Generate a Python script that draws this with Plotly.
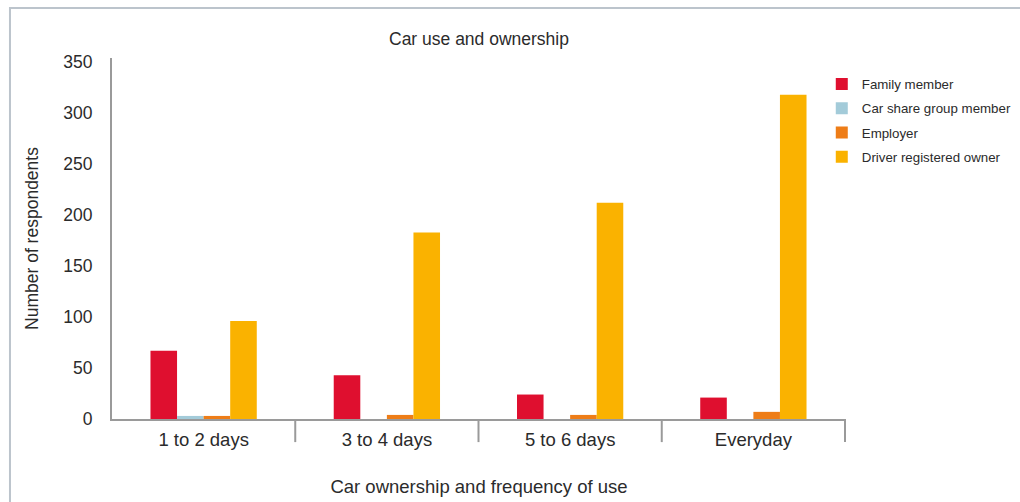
import plotly.graph_objects as go

categories = ["1 to 2 days", "3 to 4 days", "5 to 6 days", "Everyday"]
family_member = [67, 43, 24, 21]
car_share_member = [3, 0, 0, 0]
employer = [3, 4, 4, 7]
driver_owner = [96, 183, 212, 318]

series_names = ["Family member", "Car share group member", "Employer", "Driver registered owner"]
series_values = [family_member, car_share_member, employer, driver_owner]
series_colors = ["#DF0F2F", "#A3CBD9", "#EE7D17", "#FAB200"]

FONT = "Liberation Sans, Arial, Helvetica, sans-serif"
TXT = "#2b2b2b"

fig = go.Figure()
for i, (name, vals, col) in enumerate(zip(series_names, series_values, series_colors)):
    fig.add_trace(go.Bar(x=categories, y=vals, name=name, marker_color=col,
                         marker_line_width=0, legendgroup=f"g{i}"))

shapes = []
for b in [0.5, 1.5, 2.5, 3.5]:
    shapes.append(dict(type="line", xref="x", yref="paper", x0=b, x1=b, y0=0, y1=-0.064,
                       line=dict(color="#9a9a9a", width=2)))
shapes.append(dict(type="rect", xref="paper", yref="paper", x0=-0.139, x1=1.4, y0=-0.4, y1=1.1385,
                   line=dict(color="#bcc4cc", width=2), fillcolor="rgba(0,0,0,0)", layer="below"))

fig.update_layout(
    width=1020, height=502,
    margin=dict(l=112, r=174, t=58, b=83, autoexpand=False),
    paper_bgcolor="white", plot_bgcolor="white",
    font=dict(family=FONT, color=TXT),
    barmode="group", bargap=0.42, bargroupgap=0,
    title=dict(text="Car use and ownership", x=0.4696, xanchor="center", y=0.922, yanchor="middle",
               font=dict(size=17.5, color=TXT)),
    legend=dict(x=0.967, xanchor="left", y=0.97, yanchor="top", font=dict(size=13.3, color=TXT),
                tracegroupgap=4, itemwidth=30, bgcolor="rgba(0,0,0,0)"),
    shapes=shapes,
    xaxis=dict(showline=True, linecolor="#9a9a9a", linewidth=2, ticks="", showgrid=False,
               automargin=False, tickfont=dict(size=18.5, color=TXT), ticklabelstandoff=3,
               title=dict(text="Car ownership and frequency of use", font=dict(size=18.5, color=TXT), standoff=31)),
    yaxis=dict(range=[0, 354], showline=True, linecolor="#9a9a9a", linewidth=2, ticks="",
               showgrid=False, zeroline=False, automargin=False, tickvals=[0, 50, 100, 150, 200, 250, 300, 350],
               tickfont=dict(size=17.5, color=TXT), ticklabelstandoff=14,
               title=dict(text="Number of respondents", font=dict(size=17.5, color=TXT), standoff=20)),
)

fig.write_html("out.html")
